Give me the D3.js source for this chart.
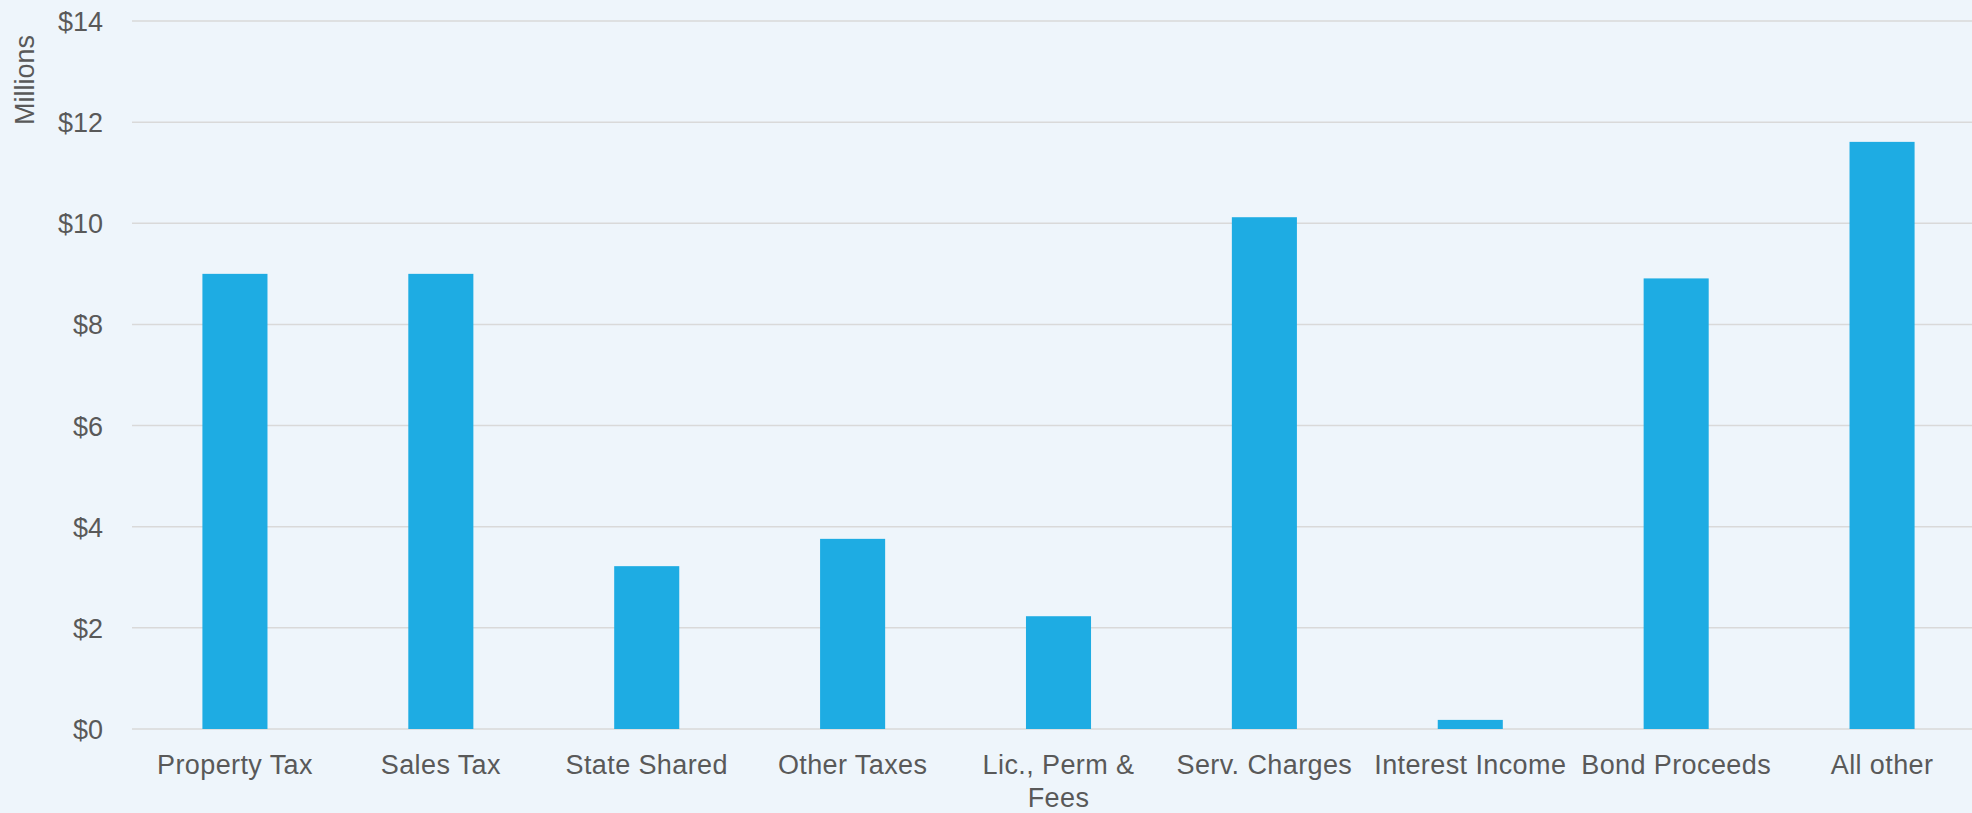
<!DOCTYPE html>
<html>
<head>
<meta charset="utf-8">
<script src="https://cdn.jsdelivr.net/npm/d3@7"></script>
<style>
  html, body { margin: 0; padding: 0; background: #eef5fb; }
  svg { display: block; font-family: 'Liberation Sans', Arial, sans-serif; }
  .tick text { fill: #595959; }
</style>
</head>
<body>
<div id="chart"></div>
<script>
// chart data
const categories = ['Property Tax', 'Sales Tax', 'State Shared', 'Other Taxes', 'Lic., Perm & Fees',
                    'Serv. Charges', 'Interest Income', 'Bond Proceeds', 'All other']
const values = [9.0, 9.0, 3.22, 3.76, 2.23, 10.12, 0.18, 8.91, 11.61]
const yTicks = [0, 2, 4, 6, 8, 10, 12, 14]
const yTitle = 'Millions'

const width = 1972, height = 813
const margin = {top: 21, right: -13, bottom: 84, left: 132}
const chartWidth = width - margin.left - margin.right
const chartHeight = height - margin.top - margin.bottom
const fontSize = '27px'

const data = categories.map(function(c, i){ return {label: c, value: values[i]} })

const svg = d3.select('#chart').append('svg')
    .attr('width', width)
    .attr('height', height)

svg.append('rect')
    .attr('width', width)
    .attr('height', height)
    .attr('fill', '#eef5fb')

const x = d3.scaleBand()
    .domain(categories)
    .range([0, chartWidth])
    .paddingInner(0.684)
    .paddingOuter(0.342)

const y = d3.scaleLinear()
    .domain([0, 14])
    .range([chartHeight, 0])

const g = svg.append('g')
    .attr('transform', 'translate(' + margin.left + ',' + margin.top + ')')

// gridlines
g.selectAll('line.grid')
  .data(yTicks)
  .enter().append('line')
    .attr('class', 'grid')
    .attr('x1', 0)
    .attr('x2', chartWidth)
    .attr('y1', function(d){ return y(d) })
    .attr('y2', function(d){ return y(d) })
    .attr('stroke', '#d9d9d9')
    .attr('stroke-width', 1.5)

// bars
g.selectAll('rect.bar')
  .data(data)
  .enter().append('rect')
    .attr('class', 'bar')
    .attr('x', function(d){ return x(d.label) })
    .attr('width', x.bandwidth())
    .attr('y', function(d){ return y(d.value) })
    .attr('height', function(d){ return chartHeight - y(d.value) })
    .attr('fill', '#1eace3')

// y axis
const yAxis = g.append('g')
    .call(d3.axisLeft(y).tickValues(yTicks).tickSize(0).tickPadding(29).tickFormat(function(d){ return '$' + d }))
yAxis.select('.domain').remove()
yAxis.selectAll('text')
    .style('font-size', fontSize)
    .attr('dy', '0.35em')

// x axis, labels wrapped to the category step
const xAxis = g.append('g')
    .attr('transform', 'translate(0,' + chartHeight + ')')
    .call(d3.axisBottom(x).tickSize(0).tickPadding(0))
xAxis.select('.domain').remove()
xAxis.selectAll('text')
    .style('font-size', fontSize)
    .style('letter-spacing', '0.4px')
    .attr('dy', 0)
    .each(function(d){
      const el = d3.select(this)
      const maxW = x.step() - 8
      const words = d.split(' ')
      el.text(null)
      let line = []
      let lineNo = 0
      let tspan = el.append('tspan').attr('x', 0).attr('y', 45)
      words.forEach(function(w){
        line.push(w)
        tspan.text(line.join(' '))
        if (tspan.node().getComputedTextLength() > maxW && line.length > 1) {
          line.pop()
          tspan.text(line.join(' '))
          line = [w]
          lineNo++
          tspan = el.append('tspan').attr('x', 0).attr('y', 45 + lineNo * 33).text(w)
        }
      })
    })

// y title
svg.append('text')
    .attr('transform', 'translate(34,80) rotate(-90)')
    .attr('text-anchor', 'middle')
    .style('font-size', fontSize)
    .attr('fill', '#595959')
    .text(yTitle)
</script>
</body>
</html>
